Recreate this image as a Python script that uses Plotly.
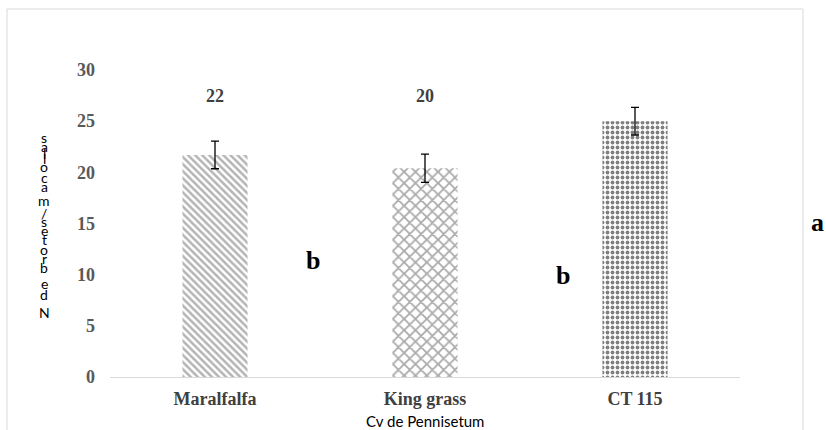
import plotly.graph_objects as go

# Data
cultivars = ["Maralfalfa", "King grass", "CT 115"]
shoots = [21.7, 20.4, 25.0]
shoots_err = [1.35, 1.38, 1.35]
groups = ["b", "b", "a"]
y_ticks = [0, 5, 10, 15, 20, 25, 30]
y_title = "N de brotes/macollas"
x_title = "Cv de Pennisetum"

W, H = 826, 430
L, R, T, B = 110, 86, 70, 53
PW, PH = W - L - R, H - T - B


def px_x(x):
    return (x - L) / PW


def px_y(y):
    return (H - B - y) / PH


SERIF = "Liberation Serif"
SANS = "Lato"

patterns = [
    dict(shape="\\", fgcolor="#6a6a6a", bgcolor="white", size=5, solidity=0.5),
    dict(shape="x", fgcolor="#555555", bgcolor="white", size=8, solidity=0.4),
    dict(shape=".", fgcolor="#000000", bgcolor="white", size=5, solidity=0.46),
]

fig = go.Figure()
for name, val, err, pat in zip(cultivars, shoots, shoots_err, patterns):
    fig.add_trace(go.Bar(
        x=[name], y=[val],
        width=0.31,
        marker=dict(color="white", pattern=pat, line=dict(width=0)),
        error_y=dict(type="data", array=[err], color="black", thickness=1.3, width=4),
        showlegend=False,
    ))

# value labels above the bars
label_heights = [27.5, 27.5, 30.9]
for name, val, ly in zip(cultivars, shoots, label_heights):
    fig.add_annotation(x=name, y=ly, xref="x", yref="y", text=f"{val:.0f}",
                       showarrow=False, xanchor="center", yanchor="middle",
                       font=dict(family=SERIF, size=18, color="#404040", weight="bold"))


def paper_text(x, y, text, font):
    fig.add_annotation(x=px_x(x), y=px_y(y), xref="paper", yref="paper", text=text,
                       showarrow=False, xanchor="center", yanchor="middle", font=font)


# significance letters
letter_pos = [(313, 260), (563, 275), (817, 222)]
for g, (lx, ly) in zip(groups, letter_pos):
    paper_text(lx, ly, g, dict(family=SERIF, size=26, color="black", weight="bold"))

# x-axis title
paper_text(W - R - PW / 2, 421, x_title, dict(family=SANS, size=15, color="black"))

# y-axis title: upright characters stacked bottom to top
adv = {"N": .646, " ": .226, "d": .525, "e": .498, "b": .525, "r": .349, "o": .527,
       "t": .335, "s": .391, "/": .386, "m": .799, "a": .479, "c": .423, "l": .229}
centers, acc = [], 0.0
for ch in y_title:
    w = adv.get(ch, .5)
    centers.append(acc + w / 2)
    acc += w
y_bottom, y_top = 312, 137
scale = (y_bottom - y_top) / (centers[-1] - centers[0])
for ch, c in zip(y_title, centers):
    if ch == " ":
        continue
    paper_text(44, y_bottom - (c - centers[0]) * scale, ch,
               dict(family=SANS, size=14, color="black"))

# outer chart frame
fig.add_shape(type="rect", xref="paper", yref="paper",
              x0=px_x(7), x1=px_x(803), y0=px_y(440), y1=px_y(9),
              line=dict(color="#d9d9d9", width=1), fillcolor="rgba(0,0,0,0)")

fig.update_layout(
    width=W, height=H,
    margin=dict(l=L, r=R, t=T, b=B),
    paper_bgcolor="white", plot_bgcolor="white",
    xaxis=dict(
        automargin=False,
        showline=True, linecolor="#d9d9d9", linewidth=1,
        showgrid=False, ticks="", ticklabelstandoff=5,
        tickfont=dict(family=SERIF, size=18, color="#404040", weight="bold"),
    ),
    yaxis=dict(
        automargin=False,
        range=[0, 30], tickvals=y_ticks, showgrid=False, zeroline=False,
        showline=False, ticks="", ticklabelstandoff=14,
        tickfont=dict(family=SERIF, size=18, color="#595959", weight="bold"),
    ),
)

fig.write_html("out.html")
